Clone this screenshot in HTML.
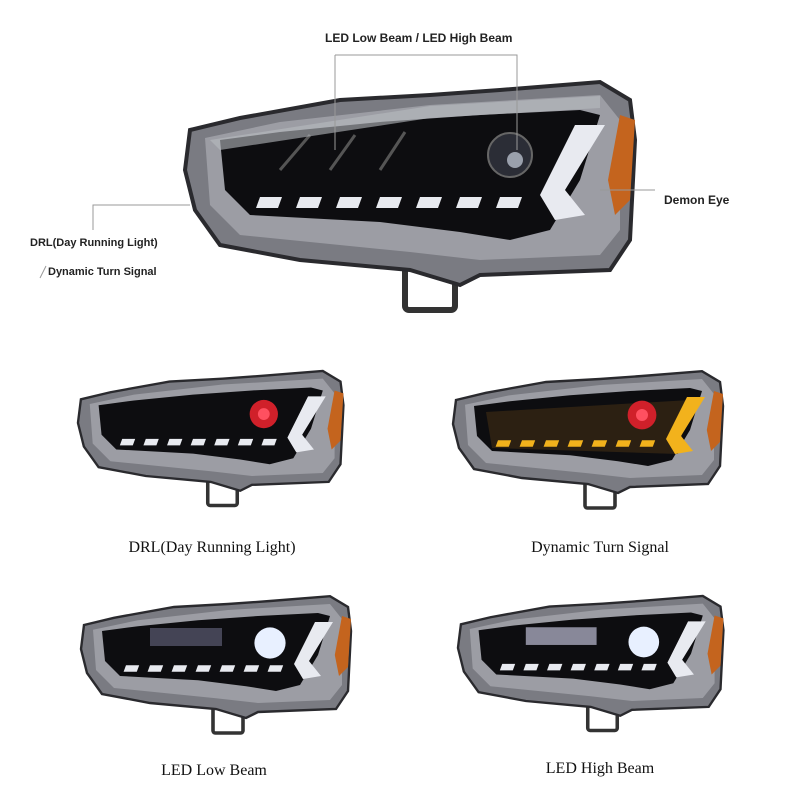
<!DOCTYPE html>
<html><head><style>
body{margin:0;background:#fff;width:800px;height:800px;overflow:hidden;position:relative}
.l{position:absolute;font-family:"Liberation Sans",sans-serif;font-weight:bold;font-size:12px;color:#222}
.c{position:absolute;font-family:"Liberation Serif",serif;font-size:16px;color:#111;width:300px;text-align:center}
</style></head><body>
<svg width="800" height="800" style="position:absolute;left:0;top:0">
<defs>
<g id="hl">
<rect x="225" y="205" width="50" height="45" rx="4" fill="none" stroke="#333" stroke-width="6"/>
<polygon points="10,70 60,58 160,40 250,35 320,30 420,22 450,40 455,80 450,180 430,210 300,215 280,225 230,210 120,200 40,185 15,150 5,110" fill="#7a7b82" stroke="#2a2a2e" stroke-width="4"/>
<polygon points="25,78 100,62 250,45 420,35 440,60 440,170 420,195 300,200 230,192 60,175 30,145" fill="#9c9da4"/>
<polygon points="40,80 100,72 200,62 300,55 400,50 420,55 400,120 370,170 330,180 280,172 200,162 70,155 45,130" fill="#0d0d10"/>
<polygon points="440,55 455,60 450,140 435,155 428,120" fill="#c4641e"/>
</g>
<g id="drlw" fill="#e8eaf0">
<polygon points="80,137 102,137 98,148 76,148"/><polygon points="120,137 142,137 138,148 116,148"/><polygon points="160,137 182,137 178,148 156,148"/><polygon points="200,137 222,137 218,148 196,148"/><polygon points="240,137 262,137 258,148 236,148"/><polygon points="280,137 302,137 298,148 276,148"/><polygon points="320,137 342,137 338,148 316,148"/>
<polygon points="395,65 425,65 385,130 405,155 375,160 360,135"/>
</g>
<g id="drla" fill="#f2b21c">
<polygon points="80,137 102,137 98,148 76,148"/><polygon points="120,137 142,137 138,148 116,148"/><polygon points="160,137 182,137 178,148 156,148"/><polygon points="200,137 222,137 218,148 196,148"/><polygon points="240,137 262,137 258,148 236,148"/><polygon points="280,137 302,137 298,148 276,148"/><polygon points="320,137 342,137 338,148 316,148"/>
<polygon points="395,65 425,65 385,130 405,155 375,160 360,135"/>
</g>
</defs>
<g transform="translate(180,60)">
<use href="#hl"/><use href="#drlw"/>
<circle cx="330" cy="95" r="22" fill="#2b2d36" stroke="#666" stroke-width="2"/>
<circle cx="335" cy="100" r="8" fill="#9aa0ac"/>
<path d="M100,110 L130,75 M150,110 L175,75 M200,110 L225,72" stroke="#555" stroke-width="3"/>
<polygon points="30,80 250,46 420,36 420,48 250,58 40,90" fill="#b8bac0" opacity=".6"/>
</g>
<g transform="translate(75,358) scale(0.59)"><use href="#hl"/><use href="#drlw"/><circle cx="320" cy="95" r="24" fill="#d0202a"/><circle cx="320" cy="95" r="10" fill="#ff5060"/></g>
<g transform="translate(450,358) scale(0.6)"><use href="#hl"/><polygon points="60,90 400,70 380,160 70,150" fill="#3a2a14" opacity=".7"/><use href="#drla"/><circle cx="320" cy="95" r="24" fill="#d0202a"/><circle cx="320" cy="95" r="10" fill="#ff5060"/></g>
<g transform="translate(78,583) scale(0.6)"><use href="#hl"/><use href="#drlw"/><circle cx="320" cy="100" r="26" fill="#e8f0ff"/><rect x="120" y="75" width="120" height="30" fill="#445" /></g>
<g transform="translate(455,583) scale(0.59)"><use href="#hl"/><use href="#drlw"/><circle cx="320" cy="100" r="26" fill="#e8f0ff"/><rect x="120" y="75" width="120" height="30" fill="#889"/></g>
<g stroke="#999" stroke-width="1" fill="none">
<path d="M335,55 V150 M335,55 H517 V150"/>
<path d="M600,190 H655"/>
<path d="M93,230 V205 H190"/>
<path d="M40,278 L46,266"/>
</g>
</svg>
<div class="l" style="left:325px;top:31px">LED Low Beam / LED High Beam</div>
<div class="l" style="left:664px;top:193px">Demon Eye</div>
<div class="l" style="left:30px;top:237px;font-size:11px">DRL(Day Running Light)</div>
<div class="l" style="left:48px;top:266px;font-size:11px">Dynamic Turn Signal</div>
<div class="c" style="left:62px;top:539px">DRL(Day Running Light)</div>
<div class="c" style="left:450px;top:539px">Dynamic Turn Signal</div>
<div class="c" style="left:64px;top:762px">LED Low Beam</div>
<div class="c" style="left:450px;top:760px">LED High Beam</div>
</body></html>
